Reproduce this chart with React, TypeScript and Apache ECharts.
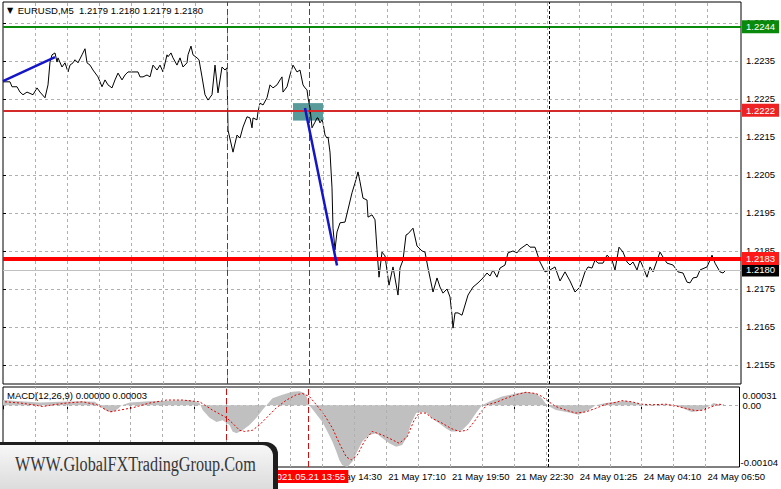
import React, { useEffect, useRef } from 'react';
import * as echarts from 'echarts';

const FONT = '"Liberation Sans", Arial, sans-serif';

// Close prices of the EURUSD M5 line chart: [bar index, price]
const closePrices: [number, number][] = [
  [0, 1.22295], [3.5, 1.22295], [4.5, 1.22282], [7, 1.22282], [8.5, 1.22268], [10, 1.22261], [12, 1.22268],
  [15, 1.22261], [17, 1.22279], [18.5, 1.22268], [21, 1.22253], [22.5, 1.22287], [23.5, 1.22347], [24.5, 1.22366],
  [26, 1.22371], [27, 1.22347], [27.5, 1.22358], [29.5, 1.22334], [31, 1.22345], [32.5, 1.22321], [33.5, 1.22339],
  [35, 1.22345], [36, 1.22353], [37.5, 1.22345], [39.5, 1.22366], [41, 1.22382], [42, 1.22345], [43.5, 1.22339],
  [45, 1.22326], [47.5, 1.22308], [49.5, 1.22282], [51, 1.223], [52.5, 1.22287], [54.5, 1.22279], [56, 1.223],
  [57.5, 1.22318], [59.5, 1.223], [61, 1.22313], [62.5, 1.22321], [65, 1.22321], [67.5, 1.22321], [68.5, 1.22308],
  [70, 1.22308], [72, 1.22313], [73.5, 1.22308], [75, 1.22339], [77, 1.22326], [78.5, 1.22339], [80, 1.22321],
  [82, 1.22366], [82.5, 1.22361], [84, 1.22371], [85, 1.22358], [87, 1.22339], [88.5, 1.22358], [90, 1.22334],
  [92, 1.22345], [92.5, 1.22366], [94, 1.22389], [95, 1.22366], [97, 1.22358], [98, 1.22353], [99.5, 1.22308],
  [101, 1.22261], [102.5, 1.22247], [104.5, 1.22261], [106, 1.22339], [107.5, 1.22266], [109.5, 1.22334],
  [111, 1.22326], [112, 1.22332], [112.5, 1.22168], [115, 1.2211], [117, 1.22155], [118.5, 1.22147], [120, 1.22176],
  [122, 1.22203], [123.5, 1.222], [124.5, 1.22174], [125, 1.222], [127, 1.22195], [127.5, 1.22216], [128.5, 1.22239],
  [130, 1.22234], [132, 1.22253], [133.5, 1.22287], [135, 1.22279], [137, 1.22287], [138.5, 1.223], [139.5, 1.22308],
  [140, 1.22268], [142, 1.22282], [143.5, 1.22313], [145, 1.22339], [147, 1.22321], [148.5, 1.22326], [150, 1.22287],
  [151, 1.22279], [152, 1.22274], [152.5, 1.22253], [153.5, 1.22226], [154.5, 1.22174], [156, 1.22189], [157, 1.222],
  [157.5, 1.222], [158.5, 1.22187], [159.5, 1.22195], [160, 1.22187], [161, 1.22155], [162, 1.22147], [162.5, 1.2215],
  [163.5, 1.2211], [164.5, 1.22016], [165, 1.2191], [166, 1.21853], [167, 1.219], [168.5, 1.21924], [171, 1.21926],
  [174.5, 1.22003], [176, 1.22029], [177.5, 1.22058], [178.5, 1.22032], [180, 1.21989], [182, 1.21984], [182.5, 1.21939],
  [184.5, 1.21945], [186, 1.21932], [187, 1.21853], [188, 1.21781], [189.5, 1.21847], [191, 1.21837], [193, 1.2176],
  [195, 1.21808], [197.5, 1.21734], [198.5, 1.21805], [200, 1.21826], [201.5, 1.21892], [202.5, 1.21895], [205, 1.2191],
  [207, 1.21863], [209.5, 1.2185], [211, 1.21847], [212.5, 1.21805], [215, 1.21742], [217, 1.21779], [218.5, 1.21755],
  [220, 1.21739], [222, 1.2175], [223.5, 1.21729], [224.5, 1.21681], [225, 1.21647], [226, 1.21687], [227.5, 1.21687],
  [229.5, 1.21681], [232.5, 1.21734], [235, 1.21755], [237.5, 1.21766], [240, 1.21779], [242, 1.21792], [243.5, 1.21784],
  [245, 1.218], [247, 1.21781], [248.5, 1.21805], [251, 1.21813], [252.5, 1.21845], [255, 1.2185], [257, 1.21845],
  [258.5, 1.21855], [262, 1.21868], [263.5, 1.2186], [266, 1.2186], [268.5, 1.21821], [271, 1.21795], [273.5, 1.218],
  [276, 1.21808], [278.5, 1.21771], [281, 1.21795], [283.5, 1.21771], [286, 1.21742], [288.5, 1.21755], [291, 1.21795],
  [292.5, 1.21808], [294.5, 1.21805], [296, 1.21826], [297.5, 1.21818], [300, 1.21818], [302, 1.21839], [304.5, 1.21826],
  [306, 1.218], [308, 1.2186], [310, 1.21847], [312, 1.21821], [313.5, 1.21813], [315, 1.21821], [317, 1.218],
  [318.5, 1.21826], [320, 1.21808], [322, 1.21781], [323.5, 1.21808], [325, 1.21795], [328.5, 1.21847], [330, 1.21834],
  [332, 1.21818], [335, 1.21813], [337.5, 1.21795], [340, 1.21792], [342, 1.21768], [343.5, 1.21766], [345, 1.21779],
  [347, 1.21781], [348.5, 1.218], [352, 1.21808], [353.5, 1.21826], [354.5, 1.21839], [356, 1.21818], [358.5, 1.21795],
  [360, 1.21792], [361.5, 1.218],
];

const trendLineA: [number, number][] = [[0, 1.22297], [26, 1.2236]];
const trendLineB: [number, number][] = [[151, 1.22226], [167, 1.21812]];
const zoneBars = [145, 160];
const zonePrices = [1.22239, 1.22193];

const priceTicks = [1.2155, 1.2165, 1.2175, 1.2185, 1.2195, 1.2205, 1.2215, 1.2225, 1.2235, 1.2245];
const levelPrices = [1.2244, 1.2222, 1.2183];
const bidPrice = 1.218;

const gridBars = [16, 32, 48, 64, 80, 96, 112, 128, 144, 160, 176, 192, 208, 224, 240, 256, 272, 288, 304, 320, 336, 352];
const redLineBars = [112, 153];
const blackLineBars = [273];
const cursorTime = '2021.05.21 13:55';
const timeTickBars = [160, 192, 224, 256, 288, 320, 352];
const timeTickLabels = ['21 May 14:30', '21 May 17:10', '21 May 19:50', '21 May 22:30', '24 May 01:25', '24 May 04:10', '24 May 06:50'];

// MACD(12,26,9): main line (histogram) and signal line: [bar index, value]
const macdHist: [number, number][] = [
  [0, 0.00009], [8.5, 0.00007], [18.5, 0.00005], [28.5, 0.00006], [38.5, 0.00007], [46, 0.00006], [48.5, 0],
  [51, -0.00008], [54.5, -0.00012], [57.5, -0.00006], [59.5, 0], [63.5, 0.00005], [73.5, 0.00007], [83.5, 0.00008],
  [93.5, 0.00009], [98.5, 0.00004], [100, -0.00008], [103.5, -0.00021], [107, -0.00028], [110, -0.00025],
  [113.5, -0.00033], [115, -0.00044], [117, -0.00047], [120, -0.00042], [123.5, -0.00033], [127, -0.00021],
  [130, -0.00008], [132, 0], [135, 0.00012], [140, 0.00018], [145, 0.00023], [148.5, 0.00024], [151, 0.00021],
  [152.5, 0.00012], [153.5, 0], [157, -0.00015], [160, -0.00028], [162.5, -0.00044], [165, -0.00061], [167, -0.00078],
  [168.5, -0.00092], [170, -0.00101], [172.5, -0.00104], [175, -0.00095], [177.5, -0.00078], [180, -0.00061],
  [183.5, -0.0005], [187, -0.00047], [190, -0.00055], [193.5, -0.00064], [197, -0.0007], [200, -0.00067],
  [202.5, -0.00053], [204.5, -0.0003], [207, -0.00013], [210, -0.00011], [212.5, -0.00013], [215, -0.00022],
  [218.5, -0.0003], [222, -0.00039], [224.5, -0.00044], [227, -0.00044], [230, -0.00042], [233.5, -0.0003],
  [237, -0.00013], [240, 0], [243.5, 0.00006], [250, 0.00015], [257, 0.0002], [262, 0.00023], [267, 0.0002],
  [270, 0.00012], [272.5, 0], [277, -0.00008], [283.5, -0.00012], [288.5, -0.00016], [293.5, -0.00008], [297, 0],
  [302, 0.00004], [307, 0.00006], [312, 0.00008], [317, 0.00004], [322, 0], [327, 0.00001], [332, 0.00002], [337, 0],
  [342, -0.00007], [345, -0.00011], [349.5, -0.00009], [353.5, -0.00002], [356, 0.00004], [358.5, 0.00002], [361, 0],
];
const macdSignal: [number, number][] = [
  [1, 0.00006], [8.5, 0.00004], [15, 0.00001], [20, -0.00002], [25, 0.00001], [32, 0.00004], [40, 0.00006],
  [47, 0.00001], [53.5, -0.00011], [58.5, -0.00008], [65, -0.00004], [73.5, 0.00004], [82, 0.00009], [90, 0.00009],
  [98.5, 0.00006], [105, -0.00008], [112, -0.00021], [115, -0.0003], [118.5, -0.00042], [121, -0.00044],
  [125, -0.00042], [128.5, -0.00033], [132, -0.00021], [137, -0.00004], [142, 0.00009], [147, 0.00018], [150, 0.0002],
  [153.5, 0.00015], [157, 0.00001], [161, -0.00016], [165, -0.00038], [168.5, -0.00064], [172, -0.00087],
  [174.5, -0.00092], [177.5, -0.00084], [181, -0.00061], [185, -0.00044], [190, -0.0005], [195, -0.00058],
  [198.5, -0.00064], [202.5, -0.00053], [206, -0.00025], [208.5, -0.00013], [212, -0.00013], [215, -0.00022],
  [220, -0.0003], [224.5, -0.00039], [228.5, -0.00044], [232.5, -0.00042], [236, -0.00028], [239.5, -0.00011],
  [242.5, 0.00001], [247, 0.00005], [252, 0.00012], [257, 0.00018], [262, 0.00022], [267, 0.0002], [270, 0.00015],
  [273.5, 0.00006], [277, -0.00002], [282, -0.00008], [287, -0.00013], [292, -0.00011], [297, -0.00005],
  [302, 0.00002], [307, 0.00005], [310, 0.00008], [315, 0.00006], [320, 0.00002], [325, 0.00001], [332, 0.00002],
  [337, -0.00001], [342, -0.00005], [347, -0.00009], [351, -0.00008], [354.5, -0.00003], [358.5, 0.00002], [361, 0.00001],
];
const macdScale = [-0.00104, 0, 0.00031];
const macdScaleLabels = ['-0.00104', '0.00', '0.00031'];
const macdZero = [0];

const headerText = 'EURUSD,M5  1.2179 1.2180 1.2179 1.2180';
const macdTitle = 'MACD(12,26,9) 0.00000 0.00003';
const watermarkText = 'WWW.GlobalFXTradingGroup.Com';

function buildOption() {
  const txt = { fontFamily: FONT, fontSize: 9.5, color: '#000' };
  const gridDash = { color: '#b0b0b0', type: [3, 3] as number[], width: 1 };
  const levelStyles = [
    { line: '#0a8a0a', width: 2, box: '#0a8a0a' },
    { line: '#d42a2a', width: 2, box: '#ee2222' },
    { line: '#ff0000', width: 4, box: '#ff1a1a' },
  ];
  const boxLabel = (text: string, bg: string) => ({
    show: true, position: 'end', distance: 1, formatter: text, color: '#fff', backgroundColor: bg,
    padding: [1, 4, 1, 4], lineHeight: 11, fontFamily: FONT, fontSize: 9.5,
  });
  const timeFormatter = (v: number) => {
    const k = timeTickBars.indexOf(v);
    return k >= 0 ? timeTickLabels[k] : '';
  };
  const macdFormatter = (v: number) => {
    const k = macdScale.findIndex((s) => Math.abs(s - v) < 1e-9);
    if (k < 0) return '';
    return '{' + ['bot', 'mid', 'top'][k] + '|' + macdScaleLabels[k] + '}';
  };
  const mlBase = { silent: true, symbol: ['none', 'none'], precision: 8, label: { show: false } };

  return {
    animation: false,
    backgroundColor: '#ffffff',
    textStyle: { fontFamily: FONT },
    title: [
      {
        text: '{a|▼} ' + headerText, left: 7, top: 5, padding: 0,
        textStyle: { ...txt, fontWeight: 'normal', rich: { a: { fontSize: 8, fontFamily: '"DejaVu Sans"', color: '#000', padding: [0, 2, 0, 0] } } },
      },
      { text: macdTitle, left: 7, top: 390, padding: 0, textStyle: { ...txt, fontWeight: 'normal' } },
    ],
    grid: [
      { left: 3, right: 40, top: 2, height: 382, show: true, borderColor: '#000', borderWidth: 1, backgroundColor: 'transparent' },
      { left: 3, right: 40, top: 387, height: 80, show: true, borderColor: '#000', borderWidth: 1, backgroundColor: 'transparent' },
    ],
    xAxis: [
      { type: 'value', gridIndex: 0, min: 0, max: 369, interval: 32, show: false },
      {
        type: 'value', gridIndex: 1, min: 0, max: 369, interval: 32,
        axisLine: { show: false }, splitLine: { show: false },
        axisTick: { show: true, length: 4, lineStyle: { color: '#000' } },
        axisLabel: { ...txt, formatter: timeFormatter, align: 'left', margin: 4, padding: [0, 0, 0, 2], showMinLabel: true, showMaxLabel: false },
      },
    ],
    yAxis: [
      {
        type: 'value', gridIndex: 0, position: 'right', min: 1.215, max: 1.22505,
        axisLine: { show: false },
        splitLine: { show: true, lineStyle: gridDash },
        axisTick: { show: true, customValues: priceTicks, length: 3, lineStyle: { color: '#000' } },
        axisLabel: { ...txt, customValues: priceTicks, formatter: (v: number) => v.toFixed(4), margin: 5 },
      },
      {
        type: 'value', gridIndex: 1, position: 'right', min: macdScale[0], max: macdScale[2],
        axisLine: { show: false },
        splitLine: { show: true, lineStyle: gridDash },
        axisTick: { show: false, customValues: macdZero },
        axisLabel: {
          ...txt, show: true, customValues: macdScale, formatter: macdFormatter, margin: 1,
          showMinLabel: true, showMaxLabel: true,
          rich: {
            top: { ...txt, padding: [16, 0, 0, 2] },
            mid: { ...txt, padding: [0, 0, 0, 2] },
            bot: { ...txt, padding: [0, 0, 10, 0] },
          },
        },
      },
    ],
    series: [
      {
        name: 'grid', type: 'line', xAxisIndex: 0, yAxisIndex: 0, data: [], silent: true, z: 1,
        markLine: {
          ...mlBase, lineStyle: gridDash,
          data: [
            ...gridBars.map((b) => ({ xAxis: b })),
            { yAxis: bidPrice, lineStyle: { color: '#c0c0c0', type: 'solid', width: 1 }, label: boxLabel(bidPrice.toFixed(4), '#000') },
          ],
        },
      },
      {
        name: 'zone', type: 'line', xAxisIndex: 0, yAxisIndex: 0, data: [], silent: true, z: 2,
        markArea: {
          silent: true, precision: 8, itemStyle: { color: 'rgba(60,138,138,0.85)' },
          data: [[{ xAxis: zoneBars[0], yAxis: zonePrices[0] }, { xAxis: zoneBars[1], yAxis: zonePrices[1] }]],
        },
      },
      {
        name: 'EURUSD', type: 'line', xAxisIndex: 0, yAxisIndex: 0, data: closePrices, showSymbol: false, z: 3,
        lineStyle: { color: '#000', width: 1 }, itemStyle: { color: '#000' },
      },
      {
        name: 'levels', type: 'line', xAxisIndex: 0, yAxisIndex: 0, data: [], silent: true, z: 4,
        markLine: {
          ...mlBase,
          data: [
            ...levelPrices.map((p, k) => ({
              yAxis: p, lineStyle: { color: levelStyles[k].line, width: levelStyles[k].width, type: 'solid' },
              label: boxLabel(p.toFixed(4), levelStyles[k].box),
            })),
            ...redLineBars.map((b) => ({ xAxis: b, lineStyle: { color: '#d01010', width: 1, type: [6, 3] } })),
            ...blackLineBars.map((b) => ({ xAxis: b, lineStyle: { color: '#000', width: 1, type: [3, 2] } })),
          ],
        },
      },
      { name: 'trendA', type: 'line', xAxisIndex: 0, yAxisIndex: 0, data: trendLineA, showSymbol: false, z: 5, lineStyle: { color: '#1414c8', width: 2.5 } },
      { name: 'trendB', type: 'line', xAxisIndex: 0, yAxisIndex: 0, data: trendLineB, showSymbol: false, z: 5, lineStyle: { color: '#1414c8', width: 2.5 } },
      {
        name: 'macdGrid', type: 'line', xAxisIndex: 1, yAxisIndex: 1, data: [], silent: true, z: 1,
        markLine: { ...mlBase, lineStyle: gridDash, data: gridBars.map((b) => ({ xAxis: b })) },
      },
      {
        name: 'MACD', type: 'line', xAxisIndex: 1, yAxisIndex: 1, data: macdHist, showSymbol: false, z: 2,
        lineStyle: { width: 0, color: 'rgba(0,0,0,0)' }, areaStyle: { color: '#c0c0c0', opacity: 1 },
      },
      {
        name: 'Signal', type: 'line', xAxisIndex: 1, yAxisIndex: 1, data: macdSignal, showSymbol: false, z: 3,
        lineStyle: { color: '#e00000', width: 1, type: [2, 2] },
      },
      {
        name: 'macdMarks', type: 'line', xAxisIndex: 1, yAxisIndex: 1, data: [], silent: true, z: 4,
        markLine: {
          ...mlBase,
          data: [
            ...redLineBars.map((b) => ({
              xAxis: b, lineStyle: { color: '#d01010', width: 1, type: [6, 3] },
              label: b === redLineBars[1]
                ? { show: true, position: 'start', distance: 3, formatter: cursorTime, color: '#fff', backgroundColor: '#ff0000', padding: [1, 3, 1, 3], lineHeight: 11, fontFamily: FONT, fontSize: 9.5 }
                : { show: false },
            })),
            ...blackLineBars.map((b) => ({ xAxis: b, lineStyle: { color: '#000', width: 1, type: [3, 2] } })),
          ],
        },
      },
    ],
    graphic: [
      { type: 'rect', z: 100, shape: { x: -12, y: 442, width: 290, height: 60, r: 12 }, style: { fill: '#1e1e1e' } },
      {
        type: 'rect', z: 101, shape: { x: -12, y: 445, width: 285, height: 60, r: 11 },
        style: {
          fill: new echarts.graphic.LinearGradient(0, 0, 0, 1, [
            { offset: 0, color: '#f7f7f7' },
            { offset: 1, color: '#d2d2d2' },
          ]),
        },
      },
      {
        type: 'text', z: 102, x: 15, y: 464, scaleX: 0.81,
        style: {
          text: watermarkText, font: '20px "Liberation Serif", "DejaVu Serif", serif', fill: '#363636',
          align: 'left', verticalAlign: 'middle', shadowColor: 'rgba(0,0,0,0.35)', shadowBlur: 3,
        },
      },
    ],
  };
}

export default function App() {
  const ref = useRef<HTMLDivElement>(null);
  useEffect(() => {
    if (!ref.current) return;
    const chart = echarts.init(ref.current, undefined, { renderer: 'svg' });
    chart.setOption(buildOption() as any);
    return () => chart.dispose();
  }, []);
  return <div ref={ref} style={{ position: 'fixed', left: 0, top: 0, width: 781, height: 489, background: '#fff' }} />;
}
